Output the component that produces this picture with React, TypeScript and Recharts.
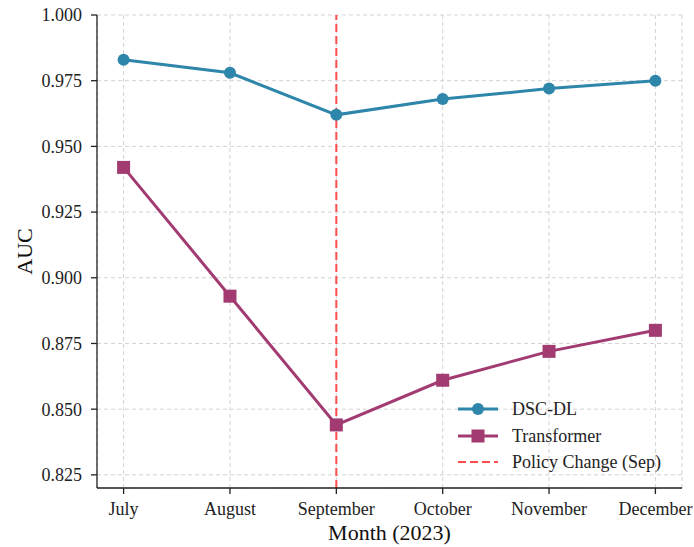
import React from "react";
import {
  LineChart,
  Line,
  XAxis,
  YAxis,
  CartesianGrid,
  ReferenceLine,
} from "recharts";

const months = ["July", "August", "September", "October", "November", "December"];
const dscValues = [0.983, 0.978, 0.962, 0.968, 0.972, 0.975];
const transformerValues = [0.942, 0.893, 0.844, 0.861, 0.872, 0.88];
const yTicks = [0.825, 0.85, 0.875, 0.9, 0.925, 0.95, 0.975, 1.0];
const policyMonth = "September";

const BLUE = "#2E86AB";
const PURPLE = "#A23B72";
const RED = "#FF4D4D";
const FONT = "'Liberation Serif', 'Times New Roman', serif";

const data = months.map((m, i) => ({
  month: m,
  dsc: dscValues[i],
  transformer: transformerValues[i],
}));

const SquareDot = (props: any) => {
  const { cx, cy } = props;
  if (cx == null || cy == null) return null;
  return <rect x={cx - 6.5} y={cy - 6.5} width={13} height={13} fill={PURPLE} />;
};

const legendItems = [
  { label: "DSC-DL", kind: "circle", color: BLUE },
  { label: "Transformer", kind: "square", color: PURPLE },
  { label: "Policy Change (Sep)", kind: "dash", color: RED },
];

export default function App() {
  return (
    <div style={{ position: "absolute", left: 0, top: 0, width: 694, height: 547, background: "#fff" }}>
      <LineChart
        width={694}
        height={547}
        data={data}
        margin={{ top: 15, right: 12, left: 0, bottom: 0 }}
      >
        <CartesianGrid stroke="#d3d3d3" strokeDasharray="4 3" strokeWidth={1} />
        <XAxis
          dataKey="month"
          type="category"
          padding={{ left: 26.6, right: 26.6 }}
          height={59}
          tickSize={6}
          tickMargin={8}
          stroke="#222"
          strokeWidth={1.3}
          tick={{ fontFamily: FONT, fontSize: 18, fill: "#222" }}
          tickLine={{ stroke: "#222" }}
          interval={0}
          label={{
            value: "Month (2023)",
            position: "insideBottom",
            offset: 7,
            style: { fontFamily: FONT, fontSize: 22, fill: "#111" },
          }}
        />
        <XAxis
          xAxisId="top"
          dataKey="month"
          orientation="top"
          height={0}
          tick={false}
          tickLine={false}
          stroke="#222"
          strokeWidth={1.3}
          padding={{ left: 26.6, right: 26.6 }}
        />
        <YAxis
          type="number"
          domain={[0.82, 1.0]}
          ticks={yTicks}
          allowDataOverflow
          width={97}
          tickSize={6}
          tickMargin={9}
          stroke="#222"
          strokeWidth={1.3}
          tickFormatter={(v: number) => v.toFixed(3)}
          tick={{ fontFamily: FONT, fontSize: 18, fill: "#222" }}
          label={{
            value: "AUC",
            angle: -90,
            position: "insideLeft",
            offset: 24,
            style: { fontFamily: FONT, fontSize: 22, fill: "#111", textAnchor: "middle" },
          }}
        />
        <YAxis
          yAxisId="right"
          orientation="right"
          width={0}
          tick={false}
          tickLine={false}
          stroke="#222"
          strokeWidth={1.3}
        />
        <Line
          type="linear"
          dataKey="dsc"
          stroke={BLUE}
          strokeWidth={3}
          dot={{ r: 6, fill: BLUE, stroke: BLUE, strokeWidth: 0 }}
          activeDot={false}
          isAnimationActive={false}
        />
        <Line
          type="linear"
          dataKey="transformer"
          stroke={PURPLE}
          strokeWidth={3}
          dot={<SquareDot />}
          activeDot={false}
          isAnimationActive={false}
        />
        <ReferenceLine
          x={policyMonth}
          stroke={RED}
          strokeWidth={2}
          strokeDasharray="8 4"
        />
      </LineChart>
      <div style={{ position: "absolute", left: 455, top: 396 }}>
        {legendItems.map((it) => (
          <div
            key={it.label}
            style={{ display: "flex", alignItems: "center", height: 26.5 }}
          >
            <svg width={50} height={20} style={{ marginLeft: 3 }}>
              {it.kind === "dash" ? (
                <line x1={0} y1={10} x2={40} y2={10} stroke={RED} strokeWidth={2} strokeDasharray="8 4" />
              ) : (
                <line x1={0} y1={10} x2={40} y2={10} stroke={it.color} strokeWidth={3} />
              )}
              {it.kind === "circle" && <circle cx={20} cy={10} r={6} fill={it.color} />}
              {it.kind === "square" && <rect x={13.5} y={3.5} width={13} height={13} fill={it.color} />}
            </svg>
            <span
              style={{
                fontFamily: FONT,
                fontSize: 18,
                color: "#222",
                marginLeft: 4,
                whiteSpace: "nowrap",
                lineHeight: "20px",
              }}
            >
              {it.label}
            </span>
          </div>
        ))}
      </div>
    </div>
  );
}
